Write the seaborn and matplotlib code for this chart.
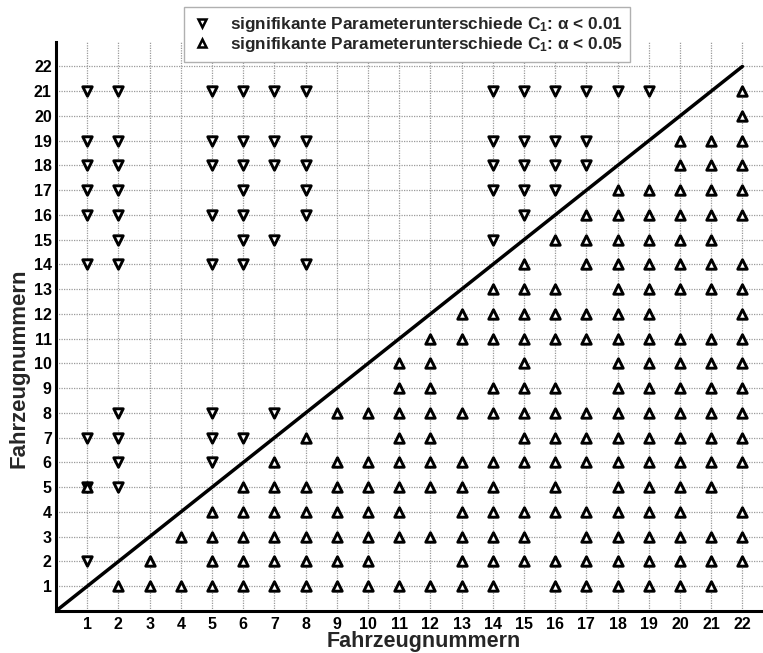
import matplotlib
matplotlib.use("Agg")
import matplotlib.pyplot as plt
from matplotlib.lines import Line2D
import pandas as pd
import seaborn as sns

# Vehicle numbers used as tick labels on both axes
vehicles = [1, 2, 3, 4, 5, 6, 7, 8, 9, 10, 11, 12, 13, 14, 15, 16, 17, 18, 19, 20, 21, 22]

# Significant parameter differences, alpha < 0.01 (vehicle on x, partner vehicles on y)
p01_cols = [1, 2, 5, 6, 7, 8, 14, 15, 16, 17, 18, 19]
p01_rows = [
    [21, 19, 18, 17, 16, 14, 7, 5, 2],
    [21, 19, 18, 17, 16, 15, 14, 8, 7, 6, 5],
    [21, 19, 18, 16, 14, 8, 7, 6],
    [21, 19, 18, 17, 16, 15, 14, 7],
    [21, 19, 18, 15, 8],
    [21, 19, 18, 17, 16, 14],
    [21, 19, 18, 17, 15],
    [21, 19, 18, 17, 16],
    [21, 19, 18, 17],
    [21, 19, 18],
    [21],
    [21],
]

# Significant parameter differences, alpha < 0.05
p05_cols = [1, 2, 3, 4, 5, 6, 7, 8, 9, 10, 11, 12, 13, 14, 15, 16, 17, 18, 19, 20, 21, 22]
p05_rows = [
    [5],
    [1],
    [2, 1],
    [3, 1],
    [4, 3, 2, 1],
    [5, 4, 3, 2, 1],
    [6, 5, 4, 3, 2, 1],
    [7, 5, 4, 3, 2, 1],
    [8, 6, 5, 4, 3, 2, 1],
    [8, 6, 5, 4, 3, 2, 1],
    [10, 9, 8, 7, 6, 5, 4, 3, 1],
    [11, 10, 9, 8, 7, 6, 5, 3, 1],
    [12, 11, 8, 6, 5, 4, 3, 2, 1],
    [13, 12, 11, 9, 8, 6, 5, 4, 3, 2, 1],
    [2, 3, 4, 6, 7, 8, 9, 10, 11, 12, 13, 14],
    [1, 2, 4, 5, 6, 7, 8, 9, 11, 12, 13, 15],
    [1, 2, 3, 4, 6, 7, 8, 11, 12, 14, 15, 16],
    [1, 2, 3, 4, 5, 6, 7, 8, 9, 10, 11, 12, 13, 14, 15, 16, 17],
    [1, 2, 3, 4, 5, 6, 7, 8, 9, 10, 11, 12, 13, 14, 15, 16, 17],
    [1, 2, 3, 4, 5, 6, 7, 8, 9, 10, 11, 13, 14, 15, 16, 17, 18, 19],
    [1, 2, 3, 5, 6, 7, 8, 9, 10, 11, 13, 14, 15, 16, 17, 18, 19],
    [2, 3, 4, 6, 7, 8, 9, 10, 11, 12, 13, 14, 16, 17, 18, 19, 20, 21],
]

# Reference diagonal
diag = [0, 22]

labels = [
    "signifikante Parameterunterschiede C$_1$: \u03b1 < 0.01",
    "signifikante Parameterunterschiede C$_1$: \u03b1 < 0.05",
]
axis_label = "Fahrzeugnummern"


def to_frame(cols, rows):
    recs = [(c, r) for c, rs in zip(cols, rows) for r in rs]
    return pd.DataFrame(recs, columns=["x", "y"])


df01 = to_frame(p01_cols, p01_rows)
df05 = to_frame(p05_cols, p05_rows)

sns.set_style("white")
plt.rcParams["font.family"] = ["Liberation Sans", "DejaVu Sans"]
plt.rcParams["font.weight"] = "bold"
plt.rcParams["mathtext.fontset"] = "custom"
plt.rcParams["mathtext.rm"] = "Liberation Sans:bold"
plt.rcParams["mathtext.it"] = "Liberation Sans:bold"
plt.rcParams["mathtext.bf"] = "Liberation Sans:bold"
plt.rcParams["mathtext.default"] = "rm"

W, H = 763, 653
fig = plt.figure(figsize=(W / 100, H / 100), dpi=100)
x0, x1 = 56, 763
y_top, y_bot = 41.7, 611
ax_w, ax_h = x1 - x0, y_bot - y_top
ax = fig.add_axes([x0 / W, 1 - y_bot / H, ax_w / W, ax_h / H])

ax.set_xlim(0, ax_w / 31.2)
ax.set_ylim(0, 23)

ax.set_xticks(vehicles)
ax.set_yticks(vehicles)
ax.grid(True, color="#9a9a9a", linestyle=(0, (1, 1)), linewidth=0.9)
ax.set_axisbelow(True)

sns.lineplot(x=diag, y=diag, ax=ax, color="black", linewidth=2.5, zorder=3)

mk = dict(s=46, color="white", edgecolor="black", linewidth=2.1, zorder=4, legend=False)
sns.scatterplot(data=df01, x="x", y="y", marker="v", ax=ax, **mk)
sns.scatterplot(data=df05, x="x", y="y", marker="^", ax=ax, **mk)

for side in ["top", "right"]:
    ax.spines[side].set_visible(False)
for side in ["left", "bottom"]:
    ax.spines[side].set_linewidth(2.2)
    ax.spines[side].set_color("black")

ax.tick_params(axis="both", direction="in", length=5, width=1.8, colors="black",
               labelsize=11.5)
ax.tick_params(axis="x", pad=4.5)
ax.tick_params(axis="y", pad=3)
for t in ax.get_xticklabels() + ax.get_yticklabels():
    t.set_fontweight("bold")

ax.set_xlabel(axis_label, fontsize=15.5, fontweight="bold")
ax.set_ylabel(axis_label, fontsize=16, fontweight="bold")
ax.xaxis.label.set_verticalalignment("baseline")
ax.xaxis.set_label_coords((424 - x0) / ax_w, (y_bot - 647.5) / ax_h)
ax.yaxis.set_label_coords((30 - x0) / ax_w, 9.8 / 23)

handles = [
    Line2D([], [], linestyle="none", marker="v", markersize=5.5, markerfacecolor="white",
           markeredgecolor="black", markeredgewidth=1.8),
    Line2D([], [], linestyle="none", marker="^", markersize=5.5, markerfacecolor="white",
           markeredgecolor="black", markeredgewidth=1.8),
]
leg = fig.legend(handles, labels, loc="upper left",
                 bbox_to_anchor=(184 / W, 1 - 7 / H),
                 frameon=True, fancybox=False, edgecolor="#b0b0b0", framealpha=1,
                 prop={"weight": "bold", "size": 12.4}, handlelength=1.2,
                 handletextpad=1.0, borderpad=0.45, labelspacing=0.1,
                 borderaxespad=0)
leg.get_frame().set_linewidth(1.0)

fig.savefig("out.png", dpi=100)
